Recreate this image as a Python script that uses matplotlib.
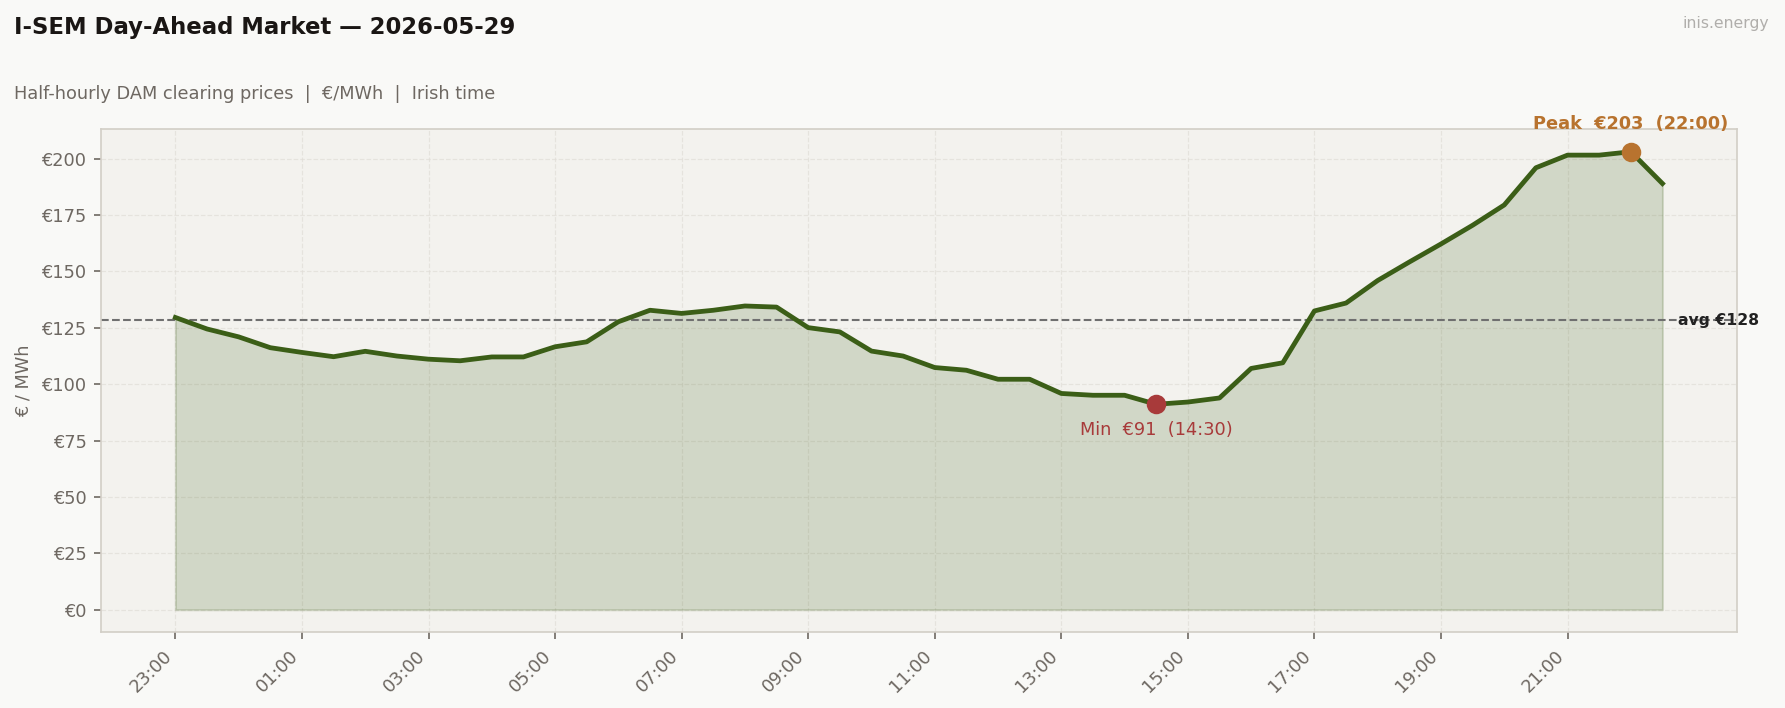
"""
plot.py
-------
I-SEM day-ahead half-hourly prices with min / peak / average markers.
"""

import matplotlib
matplotlib.use("Agg")
import matplotlib.pyplot as plt
import matplotlib.ticker as mticker
import numpy as np
import pandas as pd

# half-hourly slots, 23:00 (previous day) -> 22:30
times = pd.date_range("2026-05-28 23:00", periods=48, freq="30min").strftime("%H:%M").tolist()

prices = [
    129.6, 124.5, 121.0, 116.2, 114.1, 112.2, 114.6, 112.5,
    111.1, 110.4, 112.1, 112.1, 116.6, 118.8, 127.7, 132.8,
    131.4, 132.8, 134.7, 134.2, 125.1, 123.2, 114.7, 112.5,
    107.4, 106.2, 102.2, 102.2, 95.9, 95.1, 95.1, 91.1,
    92.1, 93.9, 107.0, 109.5, 132.5, 136.0, 146.0, 154.2,
    162.2, 170.5, 179.5, 196.0, 201.6, 201.6, 203.1, 189.0,
]

LINE = "#3b5e17"
MIN_C = "#a83a3a"
PEAK_C = "#b8732f"
TEXT_C = "#6e6862"

plt.rcParams.update({
    "figure.facecolor": "#f9f9f7",
    "axes.facecolor":   "#f3f2ee",
    "font.family":      "DejaVu Sans",
    "axes.edgecolor":   "#d2cec6",
    "xtick.color":      TEXT_C,
    "ytick.color":      TEXT_C,
})

fig = plt.figure(figsize=(11.9, 4.72), dpi=150)
ax = fig.add_axes([0.0566, 0.107, 0.9164, 0.711])

x = np.arange(len(prices))
y = np.array(prices)

ax.fill_between(x, y, 0, color=LINE, alpha=0.18, linewidth=1)
ax.plot(x, y, color=LINE, linewidth=2.3, zorder=3)

avg = y.mean()
ax.axhline(avg, color="#6f6f6f", linestyle="--", linewidth=1.0, zorder=2)
ax.text(len(y) - 0.5, avg, f"avg €{avg:.0f}", fontsize=7.5, fontweight="bold",
        color="#222222", va="center", ha="left", zorder=4)

i_min = int(np.argmin(y))
i_max = int(np.argmax(y))
ax.scatter([i_min], [y[i_min]], s=70, color=MIN_C, zorder=5)
ax.scatter([i_max], [y[i_max]], s=70, color=PEAK_C, zorder=5)
ax.annotate(f"Min  €{y[i_min]:.0f}  ({times[i_min]})", (i_min, y[i_min]),
            xytext=(0, -8), textcoords="offset points", ha="center", va="top",
            fontsize=8.5, color=MIN_C)
ax.annotate(f"Peak  €{y[i_max]:.0f}  ({times[i_max]})", (i_max, y[i_max]),
            xytext=(0, 9), textcoords="offset points", ha="center", va="bottom",
            fontsize=8.5, fontweight="bold", color=PEAK_C, annotation_clip=False)

ax.set_ylim(-10, y.max() * 1.05)
ax.margins(x=0.05)
ax.yaxis.set_major_locator(mticker.MultipleLocator(25))
ax.yaxis.set_major_formatter(mticker.FuncFormatter(lambda v, _: f"€{v:.0f}"))
ax.set_xticks(x[::4])
ax.set_xticklabels(times[::4], rotation=45, ha="right")
ax.tick_params(labelsize=8.5)
ax.set_ylabel("€ / MWh", fontsize=8.5, color=TEXT_C)
ax.grid(True, linestyle="--", linewidth=0.6, color="#e0ddd7", alpha=0.7)
ax.set_axisbelow(True)

fig.text(0.008, 0.978, "I-SEM Day-Ahead Market — 2026-05-29", fontsize=10.9,
         fontweight="bold", color="#1a1614", va="top")
fig.text(0.008, 0.880, "Half-hourly DAM clearing prices  |  €/MWh  |  Irish time",
         fontsize=8.5, color=TEXT_C, va="top")
fig.text(0.991, 0.978, "inis.energy", fontsize=7.5, color="#b0aeab", va="top", ha="right")

fig.savefig("out.png", dpi=150)
plt.close(fig)
